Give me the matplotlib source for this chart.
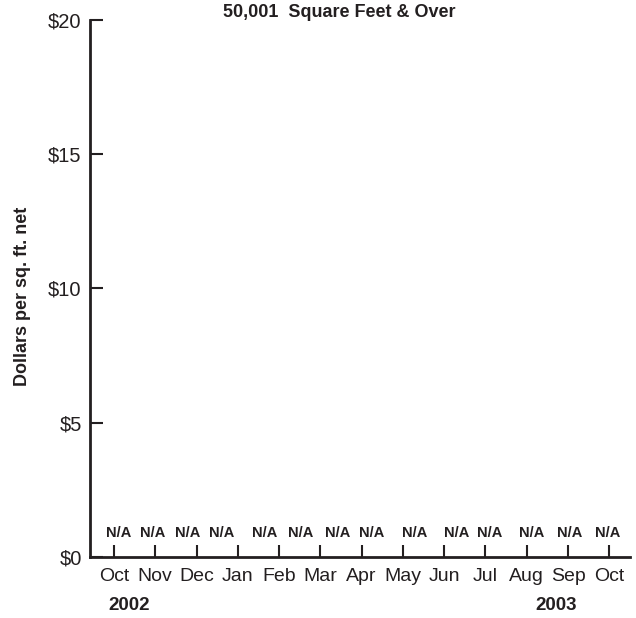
import matplotlib
matplotlib.use("Agg")
import matplotlib.pyplot as plt

months = ["Oct", "Nov", "Dec", "Jan", "Feb", "Mar", "Apr", "May", "Jun", "Jul", "Aug", "Sep", "Oct"]
years = ["2002", "2003"]
year_pos = [0.36, 10.7]
# positions (in month units) of the N/A markers
na_pos = [0.12, 0.94, 1.79, 2.62, 3.66, 4.53, 5.42, 6.25, 7.29, 8.30, 9.10, 10.12, 11.04, 11.96]
yticks = [0, 5, 10, 15, 20]

ink = "#231f20"
plt.rcParams["font.family"] = ["Liberation Sans", "DejaVu Sans"]

fig = plt.figure(figsize=(6.36, 6.18), dpi=100)
ax = fig.add_axes([0.1415, 0.0987, 0.849, 0.869])

ax.set_xlim(-0.58, 12.5)
ax.set_ylim(0, 20)
for s in ["top", "right"]:
    ax.spines[s].set_visible(False)
for s in ["left", "bottom"]:
    ax.spines[s].set_linewidth(2)
    ax.spines[s].set_color(ink)

ax.set_xticks(range(len(months)))
ax.set_xticklabels(months)
ax.set_yticks(yticks)
ax.set_yticklabels(["$%d" % v for v in yticks])
ax.tick_params(axis="both", direction="in", length=9, width=1.5, color=ink, labelcolor=ink)
ax.tick_params(axis="x", labelsize=14, pad=8)
ax.tick_params(axis="y", labelsize=14.5, pad=6)

for p in na_pos:
    ax.text(p, 0.9, "N/A", ha="center", va="center", fontsize=10.5, fontweight="heavy",
            color=ink)

for y, xp in zip(years, year_pos):
    ax.text(xp, -1.8, y, ha="center", va="center", fontsize=13.5, fontweight="bold",
            color=ink, clip_on=False)

fig.text(0.035, 0.521, "Dollars per sq. ft. net", rotation=90, ha="center", va="center",
         fontsize=13, fontweight="bold", color=ink)
fig.text(0.533, 0.98, "50,001  Square Feet & Over", ha="center", va="center",
         fontsize=13, fontweight="bold", color=ink)

fig.savefig("out.png", dpi=100)
